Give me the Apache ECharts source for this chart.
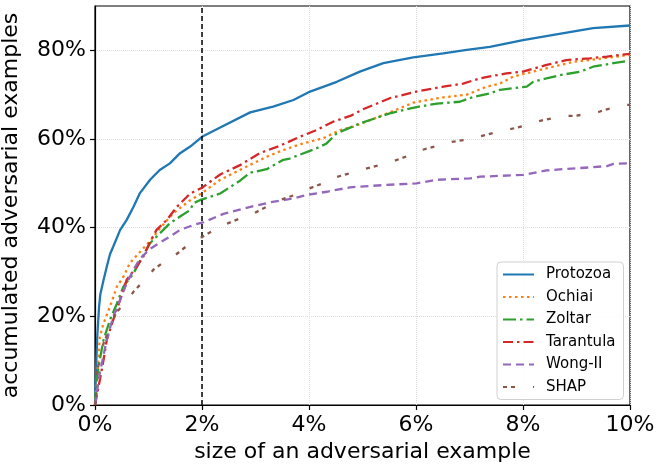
<!DOCTYPE html>
<html>
<head>
<meta charset="utf-8">
<script src="https://cdn.jsdelivr.net/npm/echarts@6/dist/echarts.min.js"></script>
<style>
html,body{margin:0;padding:0;background:#fff;}
#chart{width:656px;height:465px;}
</style>
</head>
<body>
<div id="chart"></div>
<script>
const seriesNames = ['Protozoa','Ochiai','Zoltar','Tarantula','Wong-II','SHAP'];
const xTicks = [0,2,4,6,8,10];
const yTicks = [0,20,40,60,80];
const refLineX = 2;

const protozoa = [[0,0],[0.02,8],[0.04,15],[0.075,22],[0.1,25],[0.16,28.2],[0.22,31.2],[0.28,34.0],[0.34,35.7],[0.47,39.5],[0.59,41.7],[0.72,44.7],[0.84,47.8],[1.03,50.8],[1.21,53],[1.40,54.5],[1.59,56.8],[1.78,58.3],[2.0,60.5],[2.34,62.6],[2.90,66.0],[3.33,67.3],[3.71,68.8],[4.02,70.7],[4.52,72.9],[4.95,75.2],[5.39,77.1],[5.95,78.4],[6.51,79.3],[6.95,80.1],[7.38,80.8],[8.0,82.3],[8.57,83.5],[9.31,85.0],[10,85.6]];
const ochiai = [[0,0],[0.05,8],[0.09,15.4],[0.16,18.4],[0.28,22.2],[0.41,26.7],[0.53,28.9],[0.65,32.0],[0.84,34.5],[1.03,37],[1.21,39.8],[1.46,43.2],[1.78,46.2],[2.0,47.8],[2.34,50.8],[2.77,53.4],[3.21,56.0],[3.52,57.5],[3.83,58.8],[4.27,60.2],[4.58,62.0],[4.83,62.8],[5.39,65.4],[5.95,68.2],[6.45,69.3],[6.95,70.0],[7.32,71.8],[7.57,72.5],[7.82,74.1],[8.32,75.6],[8.94,77.4],[9.5,78.2],[10,79.0]];
const zoltar = [[0,0],[0.03,5.6],[0.09,10.2],[0.16,14.7],[0.28,19.2],[0.41,22.9],[0.53,26.7],[0.72,29.7],[0.84,32.5],[1.03,36.5],[1.21,38.7],[1.40,41.0],[1.59,42.5],[1.78,44.0],[1.84,45.5],[1.96,46.2],[2.34,47.7],[2.71,50.6],[2.90,52.4],[3.21,53.2],[3.52,55.3],[3.64,55.6],[4.14,57.9],[4.33,59.0],[4.52,61.3],[4.95,63.5],[5.51,65.8],[6.01,67.2],[6.39,68.0],[6.82,68.4],[7.07,69.5],[7.38,70.3],[7.57,71.1],[8.07,71.8],[8.19,72.9],[8.44,73.7],[8.69,74.4],[9.07,75.2],[9.31,76.3],[9.69,77.1],[10,77.7]];
const tarantula = [[0,0],[0.09,5.6],[0.16,10.2],[0.22,14.7],[0.34,19.2],[0.47,23.7],[0.59,28.2],[0.78,31.2],[0.90,33.4],[1.03,36.8],[1.15,39.5],[1.34,41.7],[1.53,44.7],[1.78,47.7],[2.0,49.0],[2.34,52.0],[2.71,54.1],[3.08,56.8],[3.46,58.5],[3.83,60.5],[4.14,62.0],[4.45,63.9],[4.77,65.2],[5.01,66.7],[5.51,69.2],[6.01,70.7],[6.51,71.8],[6.88,72.5],[7.2,73.7],[7.69,74.8],[8.0,75.2],[8.44,76.7],[8.81,77.8],[9.25,78.2],[9.57,78.6],[10,79.2]];
const wong2 = [[0,0],[0.05,4],[0.09,7.2],[0.22,14.7],[0.34,19.9],[0.47,23.7],[0.59,27.4],[0.72,30.5],[0.84,33],[1.03,35.2],[1.21,36.6],[1.40,38.0],[1.59,39.5],[1.84,40.6],[2.02,41.2],[2.40,43.1],[2.77,44.3],[3.27,45.7],[3.71,46.6],[3.96,47.4],[4.33,48.1],[4.77,49.1],[5.39,49.6],[6.01,50.0],[6.39,50.8],[7.01,51.1],[7.2,51.5],[8.0,51.9],[8.44,52.9],[8.75,53.2],[9.25,53.6],[9.57,53.9],[9.69,54.4],[10,54.5]];
const shap = [[0,0],[0.03,2.6],[0.03,7.2],[0.16,13.9],[0.39,20.7],[0.65,24.4],[0.73,25.7],[1.0,29.1],[1.09,30.5],[1.38,33.1],[1.50,33.8],[1.81,36.8],[1.96,37.6],[2.27,39.8],[2.40,40.6],[2.78,42.4],[2.93,43.0],[3.27,45.1],[3.40,46.0],[3.81,47.7],[3.93,48.5],[4.30,50.2],[4.42,51.1],[4.83,52.5],[4.95,53.0],[5.39,54.3],[5.53,54.8],[5.92,56.5],[6.04,57.3],[6.48,58.7],[6.60,59.2],[7.07,60.1],[7.2,60.6],[7.63,61.9],[7.76,62.2],[8.19,63.5],[8.32,64.1],[8.75,65.2],[8.94,65.2],[9.38,65.9],[9.50,66.5],[9.94,67.7],[10,67.7]];

const seriesData = [protozoa, ochiai, zoltar, tarantula, wong2, shap];
const colors = ['#1f77b4','#ff7f0e','#2ca02c','#d62728','#9467bd','#8c564b'];
const dashes = ['solid',[2.5,3.5],[13,4,2.5,4],[10,4,2.5,4],[8,5],[4,4,4,18]];
const FONT = 'DejaVu Sans';

const chart = echarts.init(document.getElementById('chart'), null, {renderer:'canvas'});
const series = seriesNames.map((n,i)=>{
  const s = {
    name:n, type:'line', data:seriesData[i], showSymbol:false, symbol:'none',
    smooth:false, animation:false, z:2+i,
    lineStyle:{color:colors[i], width:2.3, type:dashes[i], cap:'butt'},
    itemStyle:{color:colors[i]}
  };
  if(i===0){
    s.markLine = {
      silent:true, symbol:['none','none'], label:{show:false},
      lineStyle:{color:'#000', type:[5,3], width:1.5},
      data:[{xAxis:refLineX}], animation:false
    };
  }
  return s;
});

chart.setOption({
  animation:false,
  color:colors,
  grid:{left:95, right:26, top:6, bottom:60, outerBoundsMode:'none', containLabel:false,
        show:true, borderColor:'#000', borderWidth:1.2, backgroundColor:'transparent'},
  legend:{
    show:true,
    data:seriesNames, orient:'vertical', left:497, top:262,
    itemWidth:31, itemHeight:14, itemGap:7.5,
    padding:[5,8,5,5],
    itemStyle:{opacity:0},
    backgroundColor:'rgba(255,255,255,0.85)', borderColor:'#d0d0d0', borderWidth:1, borderRadius:4,
    textStyle:{fontFamily:FONT, fontSize:15, color:'#000', padding:[0,0,0,7]}
  },
  xAxis:{
    type:'value', min:0, max:10, interval:2,
    name:'size of an adversarial example', nameLocation:'middle', nameGap:35,
    nameTextStyle:{fontFamily:FONT, fontSize:22, color:'#000'},
    axisLine:{show:true, lineStyle:{color:'#000', width:1.2}},
    axisTick:{show:true, length:5, lineStyle:{color:'#000', width:1.2}},
    axisLabel:{formatter:'{value}%', fontFamily:FONT, fontSize:22, color:'#000', margin:9},
    splitLine:{show:true, lineStyle:{color:'#dcdcdc', type:'dotted', width:1}}
  },
  yAxis:{
    type:'value', min:0, max:90, interval:20,
    name:'accumulated adversarial examples', nameLocation:'middle', nameGap:73,
    nameTextStyle:{fontFamily:FONT, fontSize:22, color:'#000'},
    axisLine:{show:true, lineStyle:{color:'#000', width:1.2}},
    axisTick:{show:true, length:5, lineStyle:{color:'#000', width:1.2}, customValues:yTicks},
    axisLabel:{fontFamily:FONT, fontSize:22, color:'#000', margin:9, customValues:yTicks,
      formatter:v => (yTicks.indexOf(v)>=0 ? v+'%' : '')},
    splitLine:{show:true, lineStyle:{color:'#dcdcdc', type:'dotted', width:1}}
  },
  series:series
});
</script>
</body>
</html>
